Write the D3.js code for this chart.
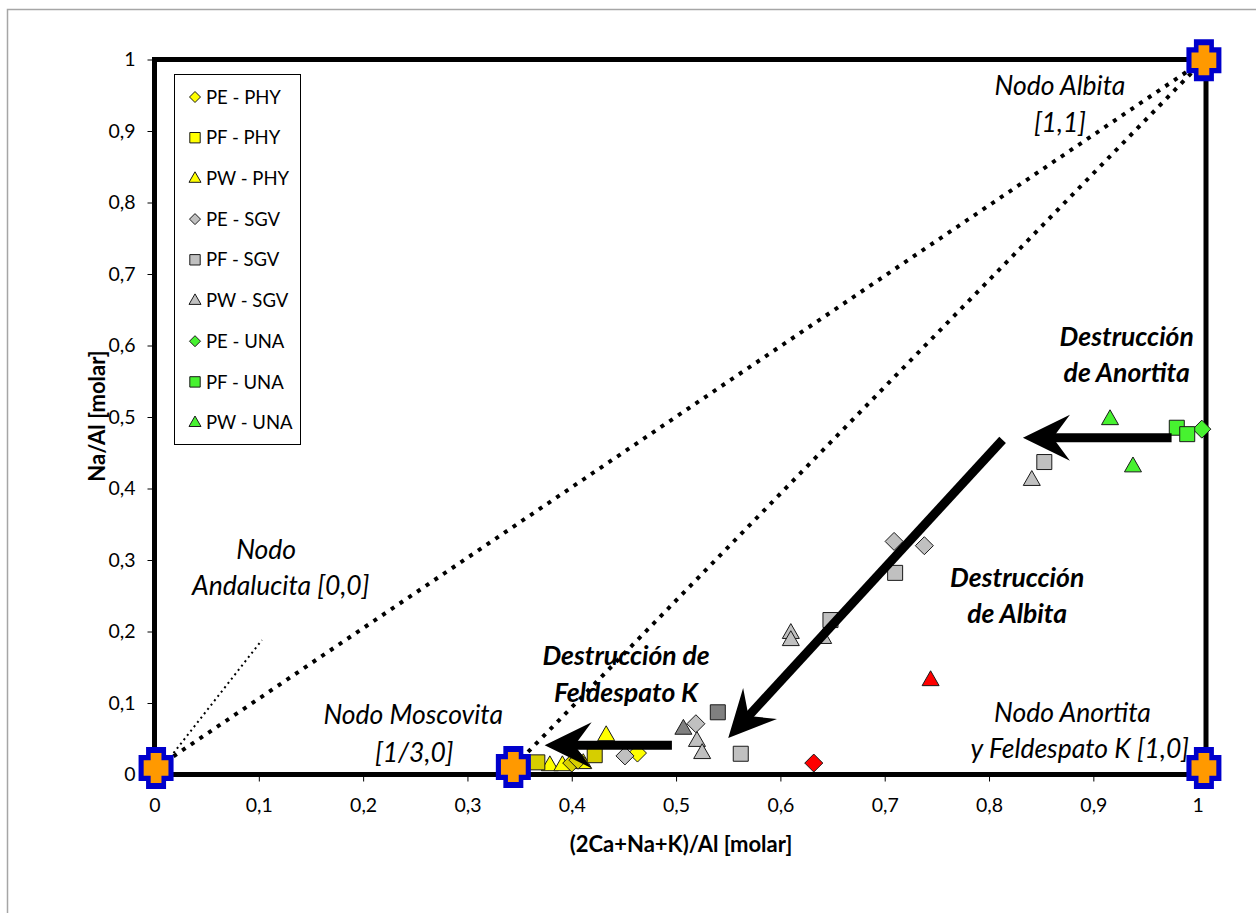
<!DOCTYPE html>
<html>
<head>
<meta charset="utf-8">
<script src="https://cdn.jsdelivr.net/npm/d3@7"></script>
<style>
  body { margin: 0; background: #fff; }
  svg { display: block; }
  text { font-family: Lato, "Open Sans", sans-serif; fill: #000; }
</style>
</head>
<body>
<svg id="chart" width="1256" height="913"></svg>
<script>
// ---- Samples: [x, y] with x = (2Ca+Na+K)/Al and y = Na/Al (molar) ----
const pePhy = [[0.463, 0.030]];
const pfPhy = [];
const pwPhy = [[0.379, 0.013], [0.391, 0.013], [0.411, 0.016], [0.433, 0.055]];
const peSgv = [[0.451, 0.026], [0.519, 0.071], [0.709, 0.326], [0.738, 0.320]];
const pfSgv = [[0.562, 0.029], [0.648, 0.216], [0.710, 0.282], [0.853, 0.437]];
const pwSgv = [[0.520, 0.047], [0.525, 0.030], [0.610, 0.198], [0.610, 0.188], [0.641, 0.191], [0.841, 0.412]];
const peUna = [[1.004, 0.483]];
const pfUna = [[0.980, 0.485], [0.990, 0.476]];
const pwUna = [[0.916, 0.497], [0.938, 0.431]];

// further samples plotted without a legend entry
const phyDarkSquares = [[0.367, 0.017], [0.422, 0.027]];
const phyDarkDiamonds = [[0.400, 0.016], [0.406, 0.020]];
const sgvDarkSquares = [[0.540, 0.087]];
const sgvDarkTriangles = [[0.507, 0.064]];
const redDiamonds = [[0.632, 0.016]];
const redTriangles = [[0.744, 0.132]];

// ---- Mineral end-member nodes ----
const nodeNames = ["Andalucita", "Moscovita", "Anortita", "Albita"];
const nodeX = [0.0015, 0.344, 1.006, 1.006];
const nodeY = [0.009, 0.0105, 0.009, 0.999];

// weathering trend arrows: [start, tip]
const arrowAnortita = [[0.975, 0.471], [0.8325, 0.471]];
const arrowAlbita = [[0.813, 0.468], [0.550, 0.051]];
const arrowFeldK = [[0.496, 0.041], [0.374, 0.041]];

// leader from the Andalucita node to its label
const andalucitaLeader = [[0.015, 0.024], [0.103, 0.188]];

// axis ticks
const xTicks = [0, 0.1, 0.2, 0.3, 0.4, 0.5, 0.6, 0.7, 0.8, 0.9, 1];
const yTicks = [0, 0.1, 0.2, 0.3, 0.4, 0.5, 0.6, 0.7, 0.8, 0.9, 1];

// ---- Setup ----
const svg = d3.select("#chart");
const W = 1256, H = 913;

const x = d3.scaleLinear().domain([0, 1.008]).range([154.5, 1206]);
const y = d3.scaleLinear().domain([0, 1]).range([774.5, 59.5]);

const commaFmt = d3.formatLocale({ decimal: ",", thousands: ".", grouping: [3], currency: ["", ""] });
const tickFmt = d => (d === 0 || d === 1) ? String(d) : commaFmt.format(".1f")(d);

// outer chart frame
svg.append("rect")
  .attr("x", 7.5).attr("y", 9.5)
  .attr("width", W + 20).attr("height", H + 20)
  .attr("fill", "#fff").attr("stroke", "#a6a6a6").attr("stroke-width", 1.5);

// ---- Marker shapes ----
const shapes = {
  diamond: r => `M0,${-r}L${r},0L0,${r}L${-r},0Z`,
  square: r => `M${-r},${-r}H${r}V${r}H${-r}Z`,
  triangle: r => `M0,${-r * 1.1}L${r},${r * 0.65}L${-r},${r * 0.65}Z`
};
const plotSize = { diamond: 9, square: 7.5, triangle: 8.5 };
const legendSize = { diamond: 5.5, square: 5.2, triangle: 6 };

const YELLOW = "#ffff00", DKYELLOW = "#d6ce00", LTGRAY = "#c0c0c0",
      DKGRAY = "#808080", GREEN = "#47f230", RED = "#ff0000";

const series = [
  { name: "PE - PHY", data: pePhy, shape: "diamond", fill: YELLOW, legend: true },
  { name: "PF - PHY", data: pfPhy, shape: "square", fill: YELLOW, legend: true },
  { name: "PW - PHY", data: pwPhy, shape: "triangle", fill: YELLOW, legend: true },
  { name: "PE - SGV", data: peSgv, shape: "diamond", fill: LTGRAY, legend: true },
  { name: "PF - SGV", data: pfSgv, shape: "square", fill: LTGRAY, legend: true },
  { name: "PW - SGV", data: pwSgv, shape: "triangle", fill: LTGRAY, legend: true },
  { name: "PE - UNA", data: peUna, shape: "diamond", fill: GREEN, legend: true },
  { name: "PF - UNA", data: pfUna, shape: "square", fill: GREEN, legend: true },
  { name: "PW - UNA", data: pwUna, shape: "triangle", fill: GREEN, legend: true },
  { name: "phy-sq", data: phyDarkSquares, shape: "square", fill: DKYELLOW, legend: false },
  { name: "phy-di", data: phyDarkDiamonds, shape: "diamond", fill: DKYELLOW, legend: false },
  { name: "sgv-sq", data: sgvDarkSquares, shape: "square", fill: DKGRAY, legend: false },
  { name: "sgv-tr", data: sgvDarkTriangles, shape: "triangle", fill: DKGRAY, legend: false },
  { name: "red-di", data: redDiamonds, shape: "diamond", fill: RED, legend: false },
  { name: "red-tr", data: redTriangles, shape: "triangle", fill: RED, legend: false }
];

// ---- Axes (ticks and labels; the frame is drawn separately) ----
const xAxis = svg.append("g")
  .attr("transform", `translate(0,${y(0)})`)
  .call(d3.axisBottom(x).tickValues(xTicks).tickSize(7).tickFormat(tickFmt));
xAxis.select(".domain").remove();
xAxis.selectAll(".tick line").attr("stroke", "#000").attr("stroke-width", 1);
xAxis.selectAll(".tick text")
  .attr("dy", null).attr("y", 37.5)
  .style("font-family", "Lato, sans-serif").style("font-size", "19.5px").attr("fill", "#000");

const yAxis = svg.append("g")
  .attr("transform", `translate(${x(0)},0)`)
  .call(d3.axisLeft(y).tickValues(yTicks).tickSize(7).tickPadding(12).tickFormat(tickFmt));
yAxis.select(".domain").remove();
yAxis.selectAll(".tick line").attr("stroke", "#000").attr("stroke-width", 1);
yAxis.selectAll(".tick text")
  .style("font-family", "Lato, sans-serif").style("font-size", "19.5px").attr("fill", "#000");

// ---- Plot frame ----
svg.append("rect")
  .attr("x", x(0)).attr("y", y(1))
  .attr("width", x(1.008) - x(0)).attr("height", y(0) - y(1))
  .attr("fill", "none").attr("stroke", "#000").attr("stroke-width", 5);

// ---- Dotted tie lines between nodes ----
const line = d3.line().x(d => x(d[0])).y(d => y(d[1]));
const node = i => [nodeX[i], nodeY[i]];
const tieLines = [[node(0), node(3)], [node(1), node(3)]];
svg.append("g").selectAll("path").data(tieLines).join("path")
  .attr("d", line)
  .attr("fill", "none").attr("stroke", "#000")
  .attr("stroke-width", 4).attr("stroke-dasharray", "4 6.5");

svg.append("path")
  .attr("d", line(andalucitaLeader))
  .attr("fill", "none").attr("stroke", "#000")
  .attr("stroke-width", 2).attr("stroke-dasharray", "2 3.5");

// ---- Sample markers ----
const pts = svg.append("g");
series.forEach(s => {
  pts.append("g").selectAll("path").data(s.data).join("path")
    .attr("transform", d => `translate(${x(d[0])},${y(d[1])})`)
    .attr("d", shapes[s.shape](plotSize[s.shape]))
    .attr("fill", s.fill).attr("stroke", "#1a1a1a").attr("stroke-width", 1);
});

// ---- Trend arrows ----
function drawArrow(a) {
  const p0 = [x(a[0][0]), y(a[0][1])], p1 = [x(a[1][0]), y(a[1][1])];
  const dx = p1[0] - p0[0], dy = p1[1] - p0[1], len = Math.hypot(dx, dy);
  const ux = dx / len, uy = dy / len, nx = -uy, ny = ux;
  const headLen = 47, headHalf = 23, notch = 30;
  const neck = [p1[0] - notch * ux, p1[1] - notch * uy];
  svg.append("line")
    .attr("x1", p0[0]).attr("y1", p0[1]).attr("x2", neck[0] + 2 * ux).attr("y2", neck[1] + 2 * uy)
    .attr("stroke", "#000").attr("stroke-width", 9);
  const back = [p1[0] - headLen * ux, p1[1] - headLen * uy];
  svg.append("path")
    .attr("d", `M${p1[0]},${p1[1]}L${back[0] + headHalf * nx},${back[1] + headHalf * ny}` +
               `L${neck[0]},${neck[1]}L${back[0] - headHalf * nx},${back[1] - headHalf * ny}Z`)
    .attr("fill", "#000");
}
[arrowAnortita, arrowAlbita, arrowFeldK].forEach(drawArrow);

// ---- Node crosses ----
function plus(hwV, hhV, hwH, hhH) {
  return `M${-hwV},${-hhV}H${hwV}V${-hhH}H${hwH}V${hhH}H${hwV}V${hhV}H${-hwV}V${hhH}H${-hwH}V${-hhH}H${-hwV}Z`;
}
const nodes = svg.append("g").selectAll("g").data(nodeNames).join("g")
  .attr("transform", (d, i) => `translate(${x(nodeX[i])},${y(nodeY[i])})`);
nodes.append("path").attr("d", plus(10, 21, 17.5, 13)).attr("fill", "#0000cc");
nodes.append("path").attr("d", plus(5.4, 15, 12.4, 7.8)).attr("fill", "#ff9900");

// ---- Annotations ----
const notes = [
  { lines: ["Nodo Albita", "[1,1]"], at: [[0.868, 0.950], [0.868, 0.899]], bold: false },
  { lines: ["Destrucción", "de Anortita"], at: [[0.932, 0.599], [0.932, 0.549]], bold: true },
  { lines: ["Destrucción", "de Albita"], at: [[0.827, 0.262], [0.827, 0.212]], bold: true },
  { lines: ["Destrucción de", "Feldespato K"], at: [[0.452, 0.153], [0.452, 0.101]], bold: true },
  { lines: ["Nodo", "Andalucita [0,0]"], at: [[0.107, 0.301], [0.121, 0.251]], bold: false },
  { lines: ["Nodo Moscovita", "[1/3,0]"], at: [[0.248, 0.071], [0.249, 0.0175]], bold: false },
  { lines: ["Nodo Anortita", "y Feldespato K [1,0]"], at: [[0.880, 0.073], [0.887, 0.023]], bold: false }
];
notes.forEach(n => {
  n.lines.forEach((t, i) => {
    svg.append("text")
      .attr("x", x(n.at[i][0])).attr("y", y(n.at[i][1]))
      .attr("text-anchor", "middle")
      .style("font-size", "26.5px")
      .style("font-style", "italic")
      .style("font-weight", n.bold ? "bold" : "normal")
      .text(t);
  });
});

// ---- Axis titles ----
svg.append("text")
  .attr("x", 681).attr("y", 852)
  .attr("text-anchor", "middle")
  .style("font-size", "22px").style("font-weight", "bold")
  .text("(2Ca+Na+K)/Al [molar]");
svg.append("text")
  .attr("transform", "translate(105,416) rotate(-90)")
  .attr("text-anchor", "middle")
  .style("font-size", "22px").style("font-weight", "bold")
  .text("Na/Al [molar]");

// ---- Legend ----
const lg = svg.append("g");
lg.append("rect")
  .attr("x", 174.5).attr("y", 74.5).attr("width", 126).attr("height", 370)
  .attr("fill", "#fff").attr("stroke", "#000").attr("stroke-width", 1);
const legendRows = series.filter(s => s.legend);
const rows = lg.selectAll("g.row").data(legendRows).join("g")
  .attr("class", "row")
  .attr("transform", (d, i) => `translate(195,${97 + i * 40.7})`);
rows.append("path")
  .attr("d", d => shapes[d.shape](legendSize[d.shape]))
  .attr("fill", d => d.fill).attr("stroke", "#1a1a1a").attr("stroke-width", 1);
rows.append("text")
  .attr("x", 11).attr("dy", "0.36em")
  .style("font-size", "18.5px")
  .text(d => d.name);
</script>
</body>
</html>
